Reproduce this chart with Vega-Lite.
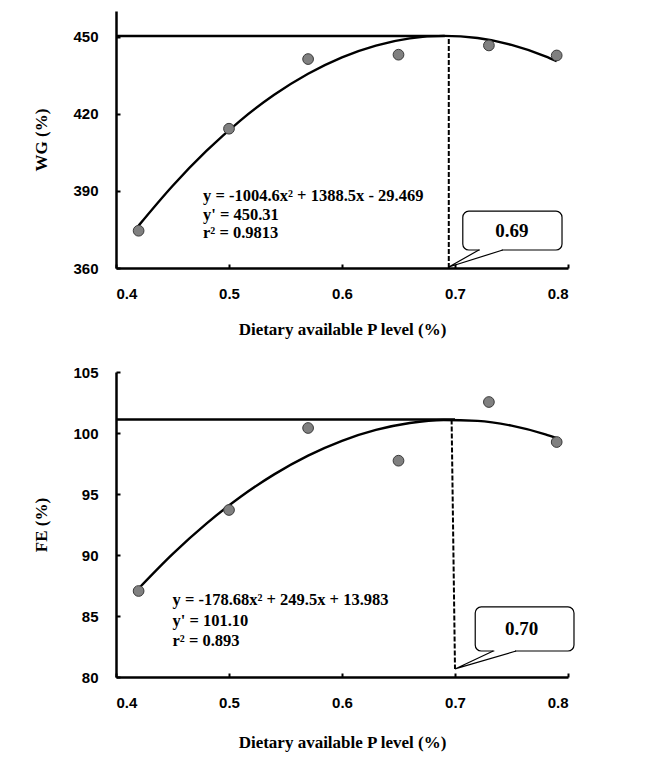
{
  "$schema": "https://vega.github.io/schema/vega-lite/v6.json",
  "background": "white",
  "padding": {"left": 32, "top": 11, "right": 5, "bottom": 5},
  "spacing": 28,
  "config": {
    "view": {"stroke": null},
    "axis": {
      "grid": false,
      "domainColor": "black",
      "domainWidth": 2.5,
      "tickColor": "black",
      "tickWidth": 2,
      "tickSize": -4,
      "labelFont": "Liberation Sans",
      "labelFontWeight": "bold",
      "labelFontSize": 15,
      "labelColor": "black",
      "titleFont": "Liberation Serif",
      "titleFontWeight": "bold",
      "titleFontSize": 17,
      "titleColor": "black"
    }
  },
  "vconcat": [
    {
      "width": 452,
      "height": 257,
      "encoding": {
        "x": {"field": "x", "type": "quantitative", "scale": {"domain": [0.4, 0.8], "nice": false, "zero": false},
              "axis": {"values": [0.4, 0.5, 0.6, 0.7, 0.8], "format": ".1f", "labelPadding": 22, "titlePadding": 20, "title": "Dietary available P level (%)"}},
        "y": {"field": "y", "type": "quantitative", "scale": {"domain": [360, 460], "nice": false, "zero": false},
              "axis": {"values": [360, 390, 420, 450], "labelPadding": 22, "titlePadding": 22, "title": "WG (%)"}}
      },
      "layer": [
        {"data": {"values": [{"x": 0.4, "x2": 0.691, "y": 450.31}]},
         "mark": {"type": "rule", "color": "black", "strokeWidth": 2.5},
         "encoding": {"x2": {"field": "x2"}}},
        {"data": {"values": [{"x": 0.6945, "y": 360, "y2": 450.31}]},
         "mark": {"type": "rule", "color": "black", "strokeWidth": 2, "strokeDash": [5, 2]},
         "encoding": {"y2": {"field": "y2"}}},
        {"data": {"values": [
          {"x": 0.42, "y": 376.49}, {"x": 0.45, "y": 391.92}, {"x": 0.48, "y": 405.55}, {"x": 0.51, "y": 417.37},
          {"x": 0.54, "y": 427.38}, {"x": 0.57, "y": 435.58}, {"x": 0.60, "y": 441.98}, {"x": 0.63, "y": 446.56},
          {"x": 0.66, "y": 449.34}, {"x": 0.69, "y": 450.31}, {"x": 0.72, "y": 449.47}, {"x": 0.75, "y": 446.82},
          {"x": 0.78, "y": 442.36}, {"x": 0.79, "y": 440.48}]},
         "mark": {"type": "line", "color": "black", "strokeWidth": 2.4, "interpolate": "monotone"},
         "encoding": {}},
        {"data": {"values": [
          {"x": 0.42, "y": 374.5}, {"x": 0.50, "y": 414.2}, {"x": 0.57, "y": 441.3},
          {"x": 0.65, "y": 443.0}, {"x": 0.73, "y": 446.6}, {"x": 0.79, "y": 442.7}]},
         "mark": {"type": "point", "filled": true, "fill": "#808080", "stroke": "#3a3a3a", "strokeWidth": 1, "size": 115, "opacity": 1},
         "encoding": {}},
        {"data": {"values": [
          {"x": 0.477, "y": 387.9, "t": "y = -1004.6x² + 1388.5x - 29.469"},
          {"x": 0.477, "y": 380.6, "t": "y' = 450.31"},
          {"x": 0.477, "y": 373.6, "t": "r² = 0.9813"}]},
         "mark": {"type": "text", "align": "left", "baseline": "middle", "font": "Liberation Serif", "fontWeight": "bold", "fontSize": 16.5, "color": "black"},
         "encoding": {"text": {"field": "t"}}},
        {"data": {"values": [{"x": 0.7069, "x2": 0.7947, "y": 367.0, "y2": 382.1}]},
         "mark": {"type": "rect", "fill": "white", "stroke": "black", "strokeWidth": 1.2, "cornerRadius": 6},
         "encoding": {"x2": {"field": "x2"}, "y2": {"field": "y2"}}},
        {"data": {"values": [{"x": 0.7221, "x2": 0.7413, "y": 367.0}]},
         "mark": {"type": "rule", "color": "white", "strokeWidth": 2.5},
         "encoding": {"x2": {"field": "x2"}}},
        {"data": {"values": [{"x": 0.7211, "y": 367.0, "o": 1}, {"x": 0.6945, "y": 360.4, "o": 2}, {"x": 0.7423, "y": 367.0, "o": 3}]},
         "mark": {"type": "line", "color": "black", "strokeWidth": 1.2},
         "encoding": {"order": {"field": "o"}}},
        {"data": {"values": [{"x": 0.7504, "y": 374.4, "t": "0.69"}]},
         "mark": {"type": "text", "align": "center", "baseline": "middle", "font": "Liberation Serif", "fontWeight": "bold", "fontSize": 19, "color": "black"},
         "encoding": {"text": {"field": "t"}}}
      ]
    },
    {
      "width": 452,
      "height": 305,
      "encoding": {
        "x": {"field": "x", "type": "quantitative", "scale": {"domain": [0.4, 0.8], "nice": false, "zero": false},
              "axis": {"values": [0.4, 0.5, 0.6, 0.7, 0.8], "format": ".1f", "labelPadding": 22, "titlePadding": 24, "title": "Dietary available P level (%)"}},
        "y": {"field": "y", "type": "quantitative", "scale": {"domain": [80, 105], "nice": false, "zero": false},
              "axis": {"values": [80, 85, 90, 95, 100, 105], "labelPadding": 22, "titlePadding": 22, "title": "FE (%)"}}
      },
      "layer": [
        {"data": {"values": [{"x": 0.4, "x2": 0.70, "y": 101.10}]},
         "mark": {"type": "rule", "color": "black", "strokeWidth": 2.5},
         "encoding": {"x2": {"field": "x2"}}},
        {"data": {"values": [{"x": 0.697, "x2": 0.700, "y": 101.10, "y2": 80.66}]},
         "mark": {"type": "rule", "color": "black", "strokeWidth": 2, "strokeDash": [5, 2]},
         "encoding": {"x2": {"field": "x2"}, "y2": {"field": "y2"}}},
        {"data": {"values": [
          {"x": 0.42, "y": 87.254}, {"x": 0.45, "y": 90.075}, {"x": 0.48, "y": 92.574}, {"x": 0.51, "y": 94.753},
          {"x": 0.54, "y": 96.61}, {"x": 0.57, "y": 98.145}, {"x": 0.60, "y": 99.358}, {"x": 0.63, "y": 100.25},
          {"x": 0.66, "y": 100.82}, {"x": 0.69, "y": 101.068}, {"x": 0.72, "y": 100.995}, {"x": 0.75, "y": 100.6},
          {"x": 0.78, "y": 99.884}, {"x": 0.79, "y": 99.574}]},
         "mark": {"type": "line", "color": "black", "strokeWidth": 2.4, "interpolate": "monotone"},
         "encoding": {}},
        {"data": {"values": [
          {"x": 0.42, "y": 87.05}, {"x": 0.50, "y": 93.69}, {"x": 0.57, "y": 100.41},
          {"x": 0.65, "y": 97.73}, {"x": 0.73, "y": 102.54}, {"x": 0.79, "y": 99.26}]},
         "mark": {"type": "point", "filled": true, "fill": "#808080", "stroke": "#3a3a3a", "strokeWidth": 1, "size": 115, "opacity": 1},
         "encoding": {}},
        {"data": {"values": [
          {"x": 0.450, "y": 86.31, "t": "y = -178.68x² + 249.5x + 13.983"},
          {"x": 0.450, "y": 84.59, "t": "y' = 101.10"},
          {"x": 0.450, "y": 82.95, "t": "r² = 0.893"}]},
         "mark": {"type": "text", "align": "left", "baseline": "middle", "font": "Liberation Serif", "fontWeight": "bold", "fontSize": 16.5, "color": "black"},
         "encoding": {"text": {"field": "t"}}},
        {"data": {"values": [{"x": 0.7179, "x2": 0.8053, "y": 82.13, "y2": 85.74}]},
         "mark": {"type": "rect", "fill": "white", "stroke": "black", "strokeWidth": 1.2, "cornerRadius": 6},
         "encoding": {"x2": {"field": "x2"}, "y2": {"field": "y2"}}},
        {"data": {"values": [{"x": 0.7348, "x2": 0.7531, "y": 82.13}]},
         "mark": {"type": "rule", "color": "white", "strokeWidth": 2.5},
         "encoding": {"x2": {"field": "x2"}}},
        {"data": {"values": [{"x": 0.7338, "y": 82.13, "o": 1}, {"x": 0.700, "y": 80.66, "o": 2}, {"x": 0.7541, "y": 82.13, "o": 3}]},
         "mark": {"type": "line", "color": "black", "strokeWidth": 1.2},
         "encoding": {"order": {"field": "o"}}},
        {"data": {"values": [{"x": 0.759, "y": 83.93, "t": "0.70"}]},
         "mark": {"type": "text", "align": "center", "baseline": "middle", "font": "Liberation Serif", "fontWeight": "bold", "fontSize": 19, "color": "black"},
         "encoding": {"text": {"field": "t"}}}
      ]
    }
  ]
}
